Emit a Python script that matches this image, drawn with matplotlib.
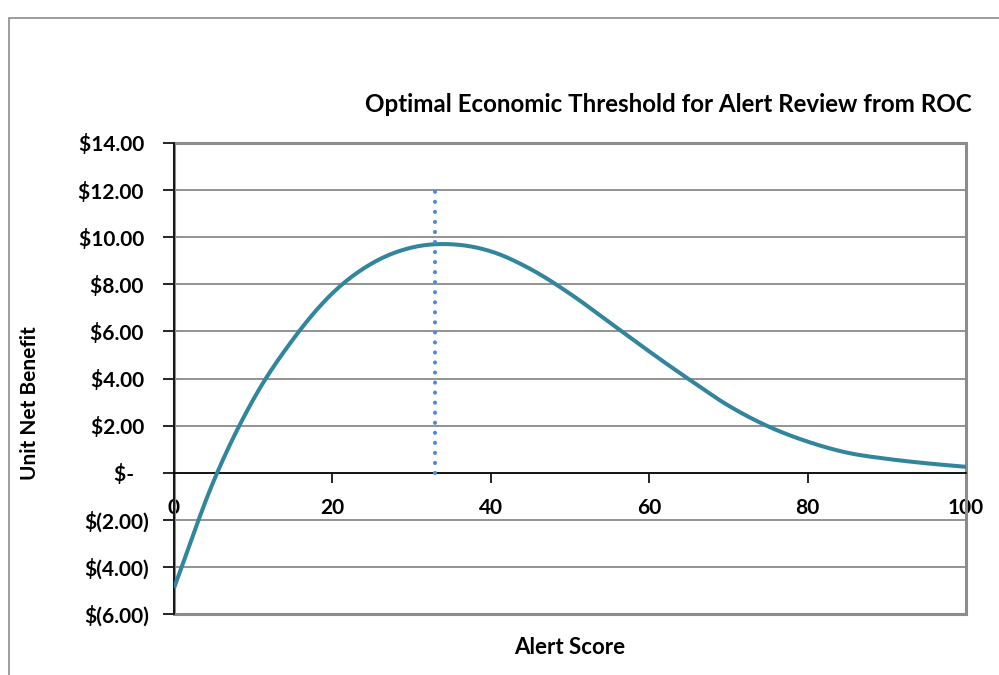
import numpy as np
import matplotlib
matplotlib.use("Agg")
import matplotlib.pyplot as plt
from matplotlib.patches import Rectangle
from matplotlib.ticker import FuncFormatter

# ---- data ----
alert_score = [0, 5, 10, 15, 20, 25, 30, 35, 40, 45, 50, 55, 60, 65, 70, 75, 80, 85, 90, 95, 100]
net_benefit = [-4.9, -0.36, 3.1, 5.65, 7.62, 8.89, 9.56, 9.70, 9.4, 8.65, 7.6, 6.38, 5.15, 3.97,
               2.85, 1.97, 1.32, 0.85, 0.59, 0.40, 0.25]
threshold_x = [33, 33]
threshold_y = [0, 12]
x_ticks = [0, 20, 40, 60, 80, 100]
y_ticks = [-6, -4, -2, 0, 2, 4, 6, 8, 10, 12, 14]

title = "Optimal Economic Threshold for Alert Review from ROC"
x_label = "Alert Score"
y_label = "Unit Net Benefit"


def catmull_rom(xs, ys, n=20):
    xs = np.asarray(xs, float)
    ys = np.asarray(ys, float)
    px = np.concatenate([[2 * xs[0] - xs[1]], xs, [2 * xs[-1] - xs[-2]]])
    py = np.concatenate([[2 * ys[0] - ys[1]], ys, [2 * ys[-1] - ys[-2]]])
    ox, oy = [], []
    for i in range(1, len(px) - 2):
        t = np.linspace(0, 1, n, endpoint=False)
        for arr, out in ((px, ox), (py, oy)):
            p0, p1, p2, p3 = arr[i - 1], arr[i], arr[i + 1], arr[i + 2]
            out.extend(0.5 * ((2 * p1) + (-p0 + p2) * t + (2 * p0 - 5 * p1 + 4 * p2 - p3) * t ** 2
                              + (-p0 + 3 * p1 - 3 * p2 + p3) * t ** 3))
    ox.append(xs[-1]); oy.append(ys[-1])
    return np.array(ox), np.array(oy)


plt.rcParams['font.family'] = ['Lato', 'DejaVu Sans']
plt.rcParams['font.weight'] = 'bold'

W, H = 999, 675
fig = plt.figure(figsize=(W / 100, H / 100), dpi=100)

# outer chart frame (extends beyond right/bottom edge)
fig.patches.append(Rectangle((9 / W, -0.1), 1.2, (H - 18) / H + 0.1, transform=fig.transFigure,
                             fill=False, edgecolor='#8c8c8c', linewidth=1.2))

left, right, top, bottom = 174, 966, 143, 614
ax = fig.add_axes([left / W, (H - bottom) / H, (right - left) / W, (bottom - top) / H])

sx, sy = catmull_rom(alert_score, net_benefit)
ax.plot(sx, sy, color='#31859C', linewidth=2.9, solid_capstyle='butt', zorder=4)
ax.plot(threshold_x, threshold_y, color='#4F8ADB', linewidth=3.0, linestyle=(0, (0.01, 2.4)),
        dash_capstyle='round', zorder=5)

ax.set_xlim(0, 100)
ax.set_ylim(-6, 14)
ax.set_xticks(x_ticks)
ax.set_yticks(y_ticks)


def money(v, pos=None):
    if abs(v) < 1e-9:
        return "$-   "
    if v < 0:
        return "$(%.2f)" % abs(v)
    return "$%.2f " % v


ax.yaxis.set_major_formatter(FuncFormatter(money))
ax.grid(axis='y', color='#808080', linewidth=1.2)
ax.set_axisbelow(True)

for s in ['top', 'right']:
    ax.spines[s].set_visible(False)
ax.spines['left'].set_color('black')
ax.spines['left'].set_linewidth(1.2)
ax.spines['bottom'].set_position(('data', 0))
ax.spines['bottom'].set_color('black')
ax.spines['bottom'].set_linewidth(1.2)
ax.spines['bottom'].set_zorder(3)

# plot-area border (gray)
ax.add_patch(Rectangle((0, 0), 1, 1, transform=ax.transAxes, fill=False, edgecolor='#8c8c8c',
                       linewidth=2.2, zorder=2, clip_on=False))

ax.tick_params(axis='y', direction='out', length=8, width=1.2, color='black', pad=10,
               labelsize=15)
ax.tick_params(axis='x', direction='out', length=7, width=1.2, color='black', pad=11,
               labelsize=15)
for lab in ax.get_xticklabels() + ax.get_yticklabels():
    lab.set_fontweight('bold')

fig.text(668 / W, 1 - 105 / H, title, ha='center', va='center', fontsize=17.4, fontweight='bold')
fig.text(570 / W, 1 - 648 / H, x_label, ha='center', va='center', fontsize=16, fontweight='bold')
fig.text(30 / W, 1 - 403 / H, y_label, ha='center', va='center', rotation=90, fontsize=15,
         fontweight='bold')

fig.savefig("out.png", dpi=100, facecolor='white')
